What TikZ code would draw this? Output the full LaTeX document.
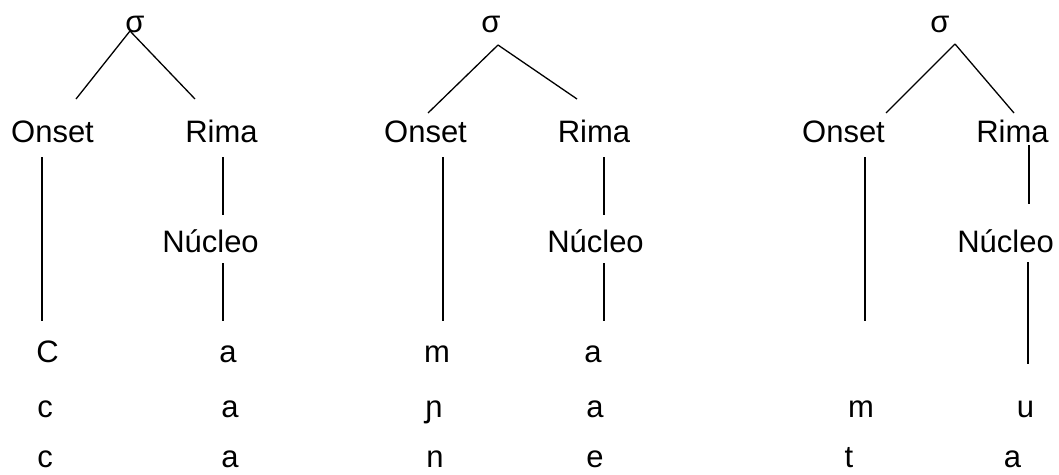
\documentclass[tikz,border=0pt]{standalone}
\usepackage{fontspec}
\setmainfont{Liberation Sans}
\begin{document}
\begin{tikzpicture}[x=1pt,y=-1pt,
  lbl/.style={anchor=base,inner sep=0pt,font=\fontsize{31}{36}\selectfont},
  edge/.style={line width=1.3pt,black}]
\useasboundingbox (0,0) rectangle (1059,474);
% ---------- Tree 1 ----------
\node[lbl] (s1) at (135,32) {σ};
\node[lbl] (o1) at (52.5,142) {Onset};
\node[lbl] (r1) at (221.5,142) {Rima};
\node[lbl] (n1) at (210.5,252) {Núcleo};
\node[lbl] (a11) at (47.5,362) {C};
\node[lbl] (b11) at (228,362) {a};
\node[lbl] (a12) at (45,417) {c};
\node[lbl] (b12) at (230,417) {a};
\node[lbl] (a13) at (45,467) {c};
\node[lbl] (b13) at (230,467) {a};
\coordinate (s1b) at (130,31);
\coordinate (o1t) at (76,99);
\coordinate (r1t) at (195,99);
\coordinate (o1b) at (42,157);
\coordinate (o1e) at (42,321);
\coordinate (r1b) at (223,157);
\coordinate (n1t) at (223,215);
\coordinate (n1b) at (223,263);
\coordinate (n1e) at (223,321);
\draw[edge] (s1b) -- (o1t);
\draw[edge] (s1b) -- (r1t);
\draw[edge] (o1b) -- (o1e);
\draw[edge] (r1b) -- (n1t);
\draw[edge] (n1b) -- (n1e);
% ---------- Tree 2 ----------
\node[lbl] (s2) at (491,32) {σ};
\node[lbl] (o2) at (425.5,142) {Onset};
\node[lbl] (r2) at (594,142) {Rima};
\node[lbl] (n2) at (595.5,252) {Núcleo};
\node[lbl] (a21) at (437,362) {m};
\node[lbl] (b21) at (593,362) {a};
\node[lbl] (a22) at (434,417) {ɲ};
\node[lbl] (b22) at (595,417) {a};
\node[lbl] (a23) at (435,467) {n};
\node[lbl] (b23) at (595,467) {e};
\coordinate (s2b) at (498,45);
\coordinate (o2t) at (428,113);
\coordinate (r2t) at (577,99);
\coordinate (o2b) at (443,157);
\coordinate (o2e) at (443,321);
\coordinate (r2b) at (604,157);
\coordinate (n2t) at (604,215);
\coordinate (n2b) at (604,263);
\coordinate (n2e) at (604,321);
\draw[edge] (s2b) -- (o2t);
\draw[edge] (s2b) -- (r2t);
\draw[edge] (o2b) -- (o2e);
\draw[edge] (r2b) -- (n2t);
\draw[edge] (n2b) -- (n2e);
% ---------- Tree 3 ----------
\node[lbl] (s3) at (940,32) {σ};
\node[lbl] (o3) at (843.5,142) {Onset};
\node[lbl] (r3) at (1012.5,142) {Rima};
\node[lbl] (n3) at (1005.5,252) {Núcleo};
\node[lbl] (a32) at (861,417) {m};
\node[lbl] (b32) at (1025.5,417) {u};
\node[lbl] (a33) at (849,467) {t};
\node[lbl] (b33) at (1012.5,467) {a};
\coordinate (s3b) at (955,44);
\coordinate (o3t) at (886,113);
\coordinate (r3t) at (1014,113);
\coordinate (o3b) at (865,157);
\coordinate (o3e) at (865,321);
\coordinate (r3b) at (1029,145);
\coordinate (n3t) at (1029,204);
\coordinate (n3b) at (1028,262);
\coordinate (n3e) at (1028,364);
\draw[edge] (s3b) -- (o3t);
\draw[edge] (s3b) -- (r3t);
\draw[edge] (o3b) -- (o3e);
\draw[edge] (r3b) -- (n3t);
\draw[edge] (n3b) -- (n3e);
\end{tikzpicture}
\end{document}
